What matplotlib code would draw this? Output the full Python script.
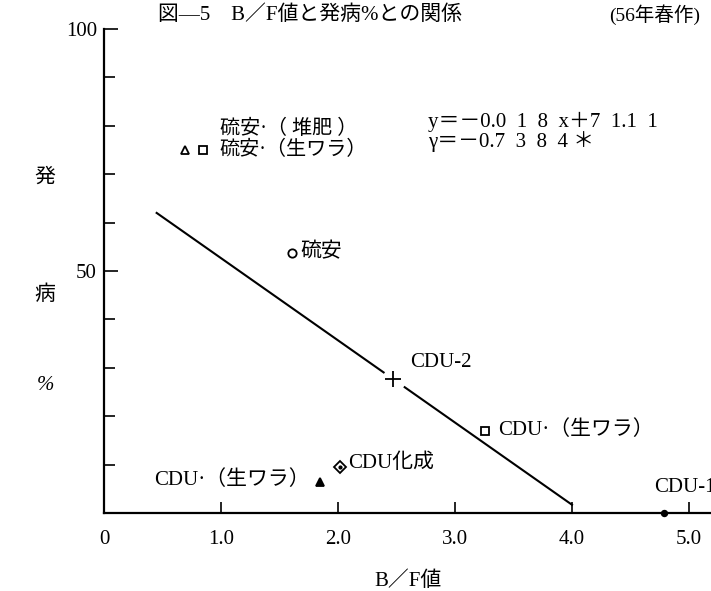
import numpy as np
import matplotlib
matplotlib.use('Agg')
import matplotlib.pyplot as plt

plt.rcParams['font.family'] = ['Liberation Serif', 'Noto Sans CJK JP', 'DejaVu Sans']

# plotted points (B/F value, disease %)
names = ['硫安·（ 堆肥 ）', '硫安·（生ワラ）', '硫安', 'CDU-2',
         'CDU·（生ワラ）', 'CDU·（生ワラ）', 'CDU化成', 'CDU-1']
bf = [0.69, 0.85, 1.61, 2.47, 3.26, 1.85, 2.02, 4.79]
hassei = [75.0, 75.0, 53.7, 27.7, 16.9, 6.5, 9.5, 0.0]
markers = ['^', 's', 'o', '+', 's', '^', 'D', 'o']
filled = [False, False, False, True, False, True, False, True]

# regression line ends
line_x = [0.45, 4.0]
line_y = [62.0, 1.7]
gap = [2.39, 2.57]   # line is broken around the CDU-2 mark

x_ticks = [0, 1, 2, 3, 4, 5]
x_labels = ['0', '1.0', '2.0', '3.0', '4.0', '5.0']
y_ticks = [50, 100]

fig = plt.figure(figsize=(7.11, 5.91), dpi=100)
ax = fig.add_axes([104 / 711, 78 / 591, 5.19 * 117 / 711, 484 / 591])
ax.set_xlim(0, 5.19)
ax.set_ylim(0, 100)

# regression line in two pieces
slope = (line_y[1] - line_y[0]) / (line_x[1] - line_x[0])
seg1 = np.array([line_x[0], gap[0]])
seg2 = np.array([gap[1], line_x[1]])
ax.plot(seg1, line_y[0] + (seg1 - line_x[0]) * slope, color='black', lw=1.5)
ax.plot(seg2, line_y[0] + (seg2 - line_x[0]) * slope, color='black', lw=1.5)

# marks
for i in range(len(bf)):
    ms = 6
    if markers[i] == '+':
        ms = 11
    if names[i] == 'CDU-1':
        ms = 4
    ax.plot(bf[i], hassei[i], marker=markers[i], ms=ms,
            mfc='black' if filled[i] else 'white', mec='black', mew=1.3,
            clip_on=False, zorder=5)
# dot inside the diamond
ax.plot(bf[6], hassei[6], marker='o', ms=2, color='black', zorder=6)

fs = 15
ax.text(0.99, 79.3, names[0], fontsize=14.5, va='center', ha='left')
ax.text(0.99, 74.9, names[1], fontsize=14.5, va='center', ha='left')
ax.text(1.68, 53.7, names[2], fontsize=fs, va='center', ha='left')
ax.text(2.62, 31.0, names[3], fontsize=fs, va='center', ha='left')
ax.text(3.37, 17.2, names[4], fontsize=fs, va='center', ha='left')
ax.text(1.76, 6.8, names[5], fontsize=fs, va='center', ha='right')
ax.text(2.09, 10.3, names[6], fontsize=fs, va='center', ha='left')
ax.text(4.70, 5.3, names[7], fontsize=fs, va='center', ha='left')

ax.text(2.77, 80.8, 'y＝－0.0  1  8  x＋7  1.1  1', fontsize=fs, va='center', ha='left')
ax.text(2.77, 76.7, 'γ＝－0.7  3  8  4 ＊', fontsize=fs, va='center', ha='left')

# axes look
for s in ['top', 'right']:
    ax.spines[s].set_visible(False)
ax.spines['left'].set_linewidth(1.6)
ax.spines['bottom'].set_linewidth(1.6)
ax.set_xticks(x_ticks)
ax.set_xticklabels(x_labels, fontsize=fs)
ax.set_yticks(y_ticks)
ax.set_yticklabels([str(v) for v in y_ticks], fontsize=fs)
ax.set_yticks(np.arange(10, 100, 10), minor=True)
ax.tick_params(axis='both', which='both', direction='in', length=8, width=1.2)
ax.tick_params(axis='x', pad=12)
ax.tick_params(axis='y', pad=5)
ax.tick_params(axis='y', which='major', length=10)

# y label, one character at a time
fig.text(45 / 711, 1 - 178 / 591, '発', fontsize=fs, ha='center', va='center')
fig.text(45 / 711, 1 - 295 / 591, '病', fontsize=fs, ha='center', va='center')
fig.text(45 / 711, 1 - 385 / 591, '%', fontsize=fs, ha='center', va='center', style='italic')

ax.set_xlabel('B／F値', fontsize=fs, labelpad=16)

fig.text(310 / 711, 1 - 15 / 591, '図—5　B／F値と発病%との関係', fontsize=15,
         ha='center', va='center')
fig.text(655 / 711, 1 - 15 / 591, '(56年春作)', fontsize=14, ha='center', va='center')

plt.savefig('out.png', dpi=100)
